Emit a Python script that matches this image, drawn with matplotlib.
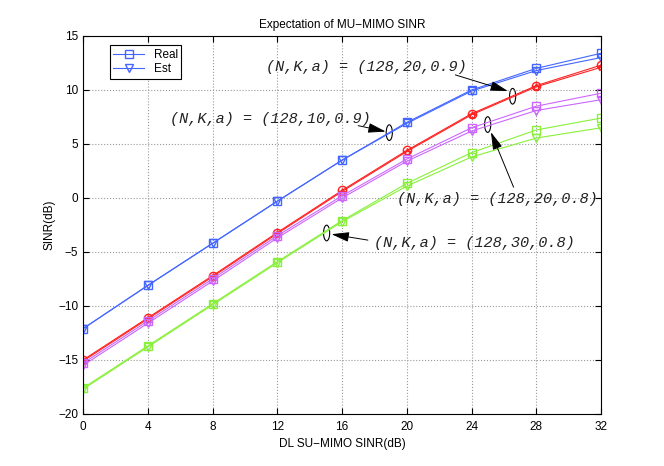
import matplotlib
matplotlib.use('Agg')
import matplotlib.pyplot as plt
from matplotlib.patches import Ellipse

# x axis: DL SU-MIMO SINR (dB)
snr = [0, 4, 8, 12, 16, 20, 24, 28, 32]

# (N,K,a) = (128,10,0.9)
blue_real = [-12.1, -8.1, -4.2, -0.3, 3.5, 7.0, 10.0, 12.0, 13.4]
blue_est = [-12.1, -8.1, -4.2, -0.3, 3.5, 6.9, 9.9, 11.8, 13.0]
# (N,K,a) = (128,20,0.9)
red_real = [-15.0, -11.1, -7.2, -3.2, 0.7, 4.4, 7.8, 10.4, 12.3]
red_est = [-15.1, -11.2, -7.3, -3.3, 0.6, 4.3, 7.7, 10.3, 12.1]
# (N,K,a) = (128,20,0.8)
mag_real = [-15.3, -11.4, -7.5, -3.5, 0.2, 3.6, 6.5, 8.5, 9.7]
mag_est = [-15.5, -11.6, -7.7, -3.7, 0.0, 3.4, 6.2, 8.1, 9.1]
# (N,K,a) = (128,30,0.8)
grn_real = [-17.6, -13.7, -9.8, -5.9, -2.1, 1.35, 4.2, 6.3, 7.4]
grn_est = [-17.7, -13.8, -9.9, -6.0, -2.2, 1.1, 3.8, 5.55, 6.5]

blue = '#4466ff'
red = '#ff2222'
mag = '#cc66ff'
grn = '#88f03a'

plt.rcParams['font.family'] = ['Liberation Sans', 'DejaVu Sans']
fig = plt.figure(figsize=(6.64, 4.66), dpi=100)
ax = fig.add_axes([83/664, 1-414/466, (601-83)/664, (414-36)/466])

ms = 6
lw = 0.8
l1, = ax.plot(snr, blue_real, '-s', color=blue, mfc='none', ms=ms, lw=lw, label='Real')
l2, = ax.plot(snr, blue_est, '-v', color=blue, mfc='none', ms=ms, lw=lw, label='Est')
ax.plot(snr, red_real, '-o', color=red, mfc='none', ms=ms, lw=lw)
ax.plot(snr, red_est, '-*', color=red, mfc='none', ms=ms, lw=lw)
ax.plot(snr, mag_real, '-s', color=mag, mfc='none', ms=ms, lw=lw)
ax.plot(snr, mag_est, '-v', color=mag, mfc='none', ms=ms, lw=lw)
ax.plot(snr, grn_real, '-s', color=grn, mfc='none', ms=ms, lw=lw)
ax.plot(snr, grn_est, '-v', color=grn, mfc='none', ms=ms, lw=lw)

ax.set_xlim(0, 32)
ax.set_ylim(-20, 15)
ax.set_xticks(range(0, 33, 4))
ax.set_yticks(range(-20, 16, 5))
ax.tick_params(direction='in', top=True, right=True, labelsize=8.5, length=4)
ax.tick_params(axis='x', pad=5)
ax.grid(True, linestyle=':', color='#999999', lw=0.8)
for s in ax.spines.values():
    s.set_linewidth(0.8)

ax.set_title('Expectation of MU\u2212MIMO SINR', fontsize=8.5)
ax.set_xlabel('DL SU\u2212MIMO SINR(dB)', fontsize=8.5, labelpad=4)
ax.set_ylabel('SINR(dB)', fontsize=8.5, labelpad=2)

leg = ax.legend(handles=[l1, l2], loc='upper left', bbox_to_anchor=(0.052, 0.975),
                borderaxespad=0, fontsize=8.5, fancybox=False, edgecolor='black',
                framealpha=1, handlelength=2.6, borderpad=0.3, labelspacing=0.2)
leg.get_frame().set_linewidth(0.8)

# annotations: ellipse centre, text start, arrow tail, arrow head, label
notes = [
    ((26.54, 9.42), (11.3, 12.1), (23.0, 11.4), (26.25, 9.9), '(N,K,a) = (128,20,0.9)'),
    ((18.92, 6.05), (5.4, 7.35), (17.0, 6.7), (18.7, 6.15), '(N,K,a) = (128,10,0.9)'),
    ((25.0, 6.8), (19.4, -0.05), (26.6, 1.0), (25.2, 6.1), '(N,K,a) = (128,20,0.8)'),
    ((15.05, -3.24), (17.97, -4.17), (17.6, -3.9), (15.35, -3.35), '(N,K,a) = (128,30,0.8)'),
]
for centre, tpos, tail, head, txt in notes:
    ax.add_patch(Ellipse(centre, 0.38, 1.45, fill=False, ec='black', lw=0.8))
    ax.text(tpos[0], tpos[1], txt, family='Liberation Mono', style='italic',
            fontsize=11, color='#222222', va='center', ha='left')
    ax.annotate('', xy=head, xytext=tail,
                arrowprops=dict(arrowstyle='-|>,head_width=0.25,head_length=0.9',
                                color='black', lw=0.7, mutation_scale=12,
                                shrinkA=0, shrinkB=0))

fig.savefig('out.png', dpi=100)
